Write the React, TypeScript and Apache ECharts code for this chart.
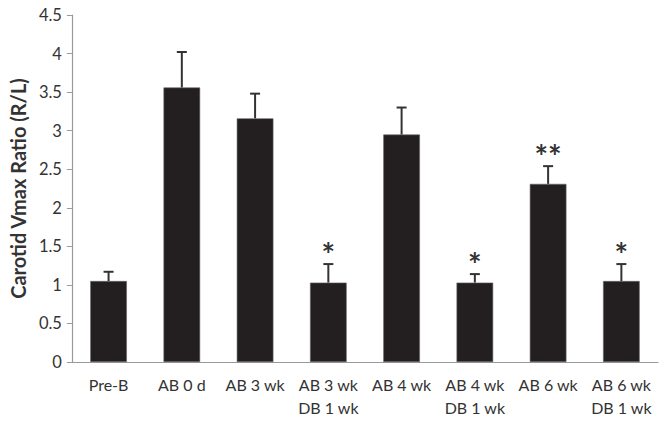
import React, { useEffect, useRef } from "react";
import * as echarts from "echarts";

const categories = [
  "Pre-B",
  "AB 0 d",
  "AB 3 wk",
  "AB 3 wk\nDB 1 wk",
  "AB 4 wk",
  "AB 4 wk\nDB 1 wk",
  "AB 6 wk",
  "AB 6 wk\nDB 1 wk",
];
const means = [1.05, 3.56, 3.16, 1.03, 2.95, 1.03, 2.31, 1.05];
const errors = [0.12, 0.46, 0.32, 0.24, 0.35, 0.11, 0.23, 0.22];
const marks = ["", "", "", "*", "", "*", "**", "*"];
const yTicks = { min: 0, max: 4.5, interval: 0.5 };

export default function App() {
  const ref = useRef<HTMLDivElement>(null);
  useEffect(() => {
    const chart = echarts.init(ref.current!, undefined, { renderer: "svg" });
    const font = "Lato, 'Open Sans', sans-serif";
    chart.setOption({
      animation: false,
      grid: { left: 69, right: 3, top: 15, bottom: 60 },
      xAxis: {
        type: "category",
        data: categories,
        axisLine: { lineStyle: { color: "#999", width: 1.2 } },
        axisTick: { show: false },
        axisLabel: {
          color: "#333",
          fontSize: 16,
          fontFamily: font,
          margin: 11,
          lineHeight: 23,
          interval: 0,
        },
      },
      yAxis: {
        type: "value",
        min: yTicks.min,
        max: yTicks.max,
        interval: yTicks.interval,
        name: "Carotid Vmax Ratio (R/L)",
        nameLocation: "middle",
        nameGap: 38,
        nameTextStyle: { fontSize: 20, fontWeight: "bold", color: "#333", fontFamily: font },
        splitLine: { show: false },
        axisLine: { show: true, lineStyle: { color: "#999", width: 1.2 } },
        axisTick: { show: true, length: 5, lineStyle: { color: "#999" } },
        axisLabel: {
          color: "#333",
          fontSize: 16.5,
          fontFamily: font,
          margin: 10,
          formatter: (v: number) => String(v),
        },
      },
      series: [
        {
          type: "bar",
          data: means,
          barWidth: "50%",
          itemStyle: { color: "#231f20", borderColor: "#666", borderWidth: 0.6 },
        },
        {
          type: "custom",
          data: means.map((m, i) => [i, m, m + errors[i], marks[i]]),
          renderItem: (params: any, api: any) => {
            const x = api.value(0);
            const base = api.coord([x, api.value(1)]);
            const top = api.coord([x, api.value(2)]);
            const mark = marks[params.dataIndex];
            const children: any[] = [
              {
                type: "line",
                shape: { x1: base[0], y1: base[1], x2: top[0], y2: top[1] },
                style: { stroke: "#333", lineWidth: 2 },
              },
              {
                type: "line",
                shape: { x1: top[0] - 5, y1: top[1], x2: top[0] + 5, y2: top[1] },
                style: { stroke: "#333", lineWidth: 2 },
              },
            ];
            if (mark) {
              children.push({
                type: "text",
                style: {
                  text: mark,
                  x: top[0],
                  y: top[1] + 6,
                  align: "center",
                  verticalAlign: "bottom",
                  fontSize: 32,
                  fontWeight: "bold",
                  fontFamily: font,
                  fill: "#333",
                },
              });
            }
            return { type: "group", children };
          },
          z: 3,
        },
      ],
    });
    return () => chart.dispose();
  }, []);
  return <div ref={ref} style={{ width: 661, height: 422, position: "absolute", left: 0, top: 0 }} />;
}
